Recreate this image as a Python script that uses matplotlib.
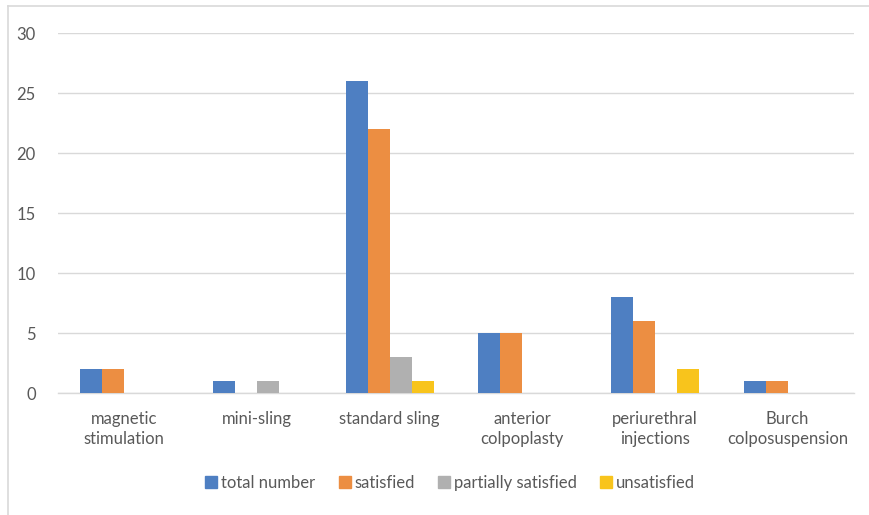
import numpy as np
import matplotlib.pyplot as plt
from matplotlib.lines import Line2D

plt.rcParams['font.family'] = ['Lato', 'DejaVu Sans']

categories = ['magnetic\nstimulation', 'mini-sling', 'standard sling',
              'anterior\ncolpoplasty', 'periurethral\ninjections',
              'Burch\ncolposuspension']
series_names = ['total number', 'satisfied', 'partially satisfied', 'unsatisfied']
total_number = [2, 1, 26, 5, 8, 1]
satisfied = [2, 0, 22, 5, 6, 1]
partially_satisfied = [0, 1, 3, 0, 0, 0]
unsatisfied = [0, 0, 1, 0, 2, 0]
colors = ['#4e7fc2', '#ec8e42', '#b0b0b0', '#f8c41c']

text_col = '#595959'
fig = plt.figure(figsize=(8.69, 5.15), dpi=100)
ax = fig.add_axes([58 / 869, 1 - 393 / 515, (854 - 58) / 869, 360 / 515])

x = np.arange(len(categories))
w = 0.166
for i, vals in enumerate([total_number, satisfied, partially_satisfied, unsatisfied]):
    ax.bar(x + (i - 1.5) * w, vals, width=w, color=colors[i], zorder=3)

ax.set_xlim(-0.5, len(categories) - 0.5)
ax.set_ylim(0, 30)
ax.set_yticks(range(0, 31, 5))
ax.yaxis.grid(True, color='#d9d9d9', linewidth=1)
ax.set_axisbelow(True)
for s in ['top', 'right', 'left']:
    ax.spines[s].set_visible(False)
ax.spines['bottom'].set_color('#d9d9d9')
ax.spines['bottom'].set_linewidth(1)
ax.set_xticks(x)
ax.set_xticklabels(categories, fontsize=12, color=text_col, linespacing=1.3)
ax.tick_params(axis='x', length=0, pad=13)
ax.tick_params(axis='y', length=0, pad=16, labelsize=12, labelcolor=text_col)

handles = [Line2D([], [], marker='s', linestyle='', markersize=8, color=c) for c in colors]
fig.legend(handles, series_names, loc='center', bbox_to_anchor=(449 / 869, 1 - 483 / 515),
           ncol=4, frameon=False, fontsize=12, labelcolor=text_col,
           handletextpad=0.1, columnspacing=1.25, handlelength=1.0)

# outer chart frame (top and left edges)
fig.add_artist(Line2D([8 / 869, 1], [1 - 6 / 515, 1 - 6 / 515], color='#d9d9d9', linewidth=1.2))
fig.add_artist(Line2D([8 / 869, 8 / 869], [0, 1 - 6 / 515], color='#d9d9d9', linewidth=1.2))

fig.savefig('out.png', dpi=100)
